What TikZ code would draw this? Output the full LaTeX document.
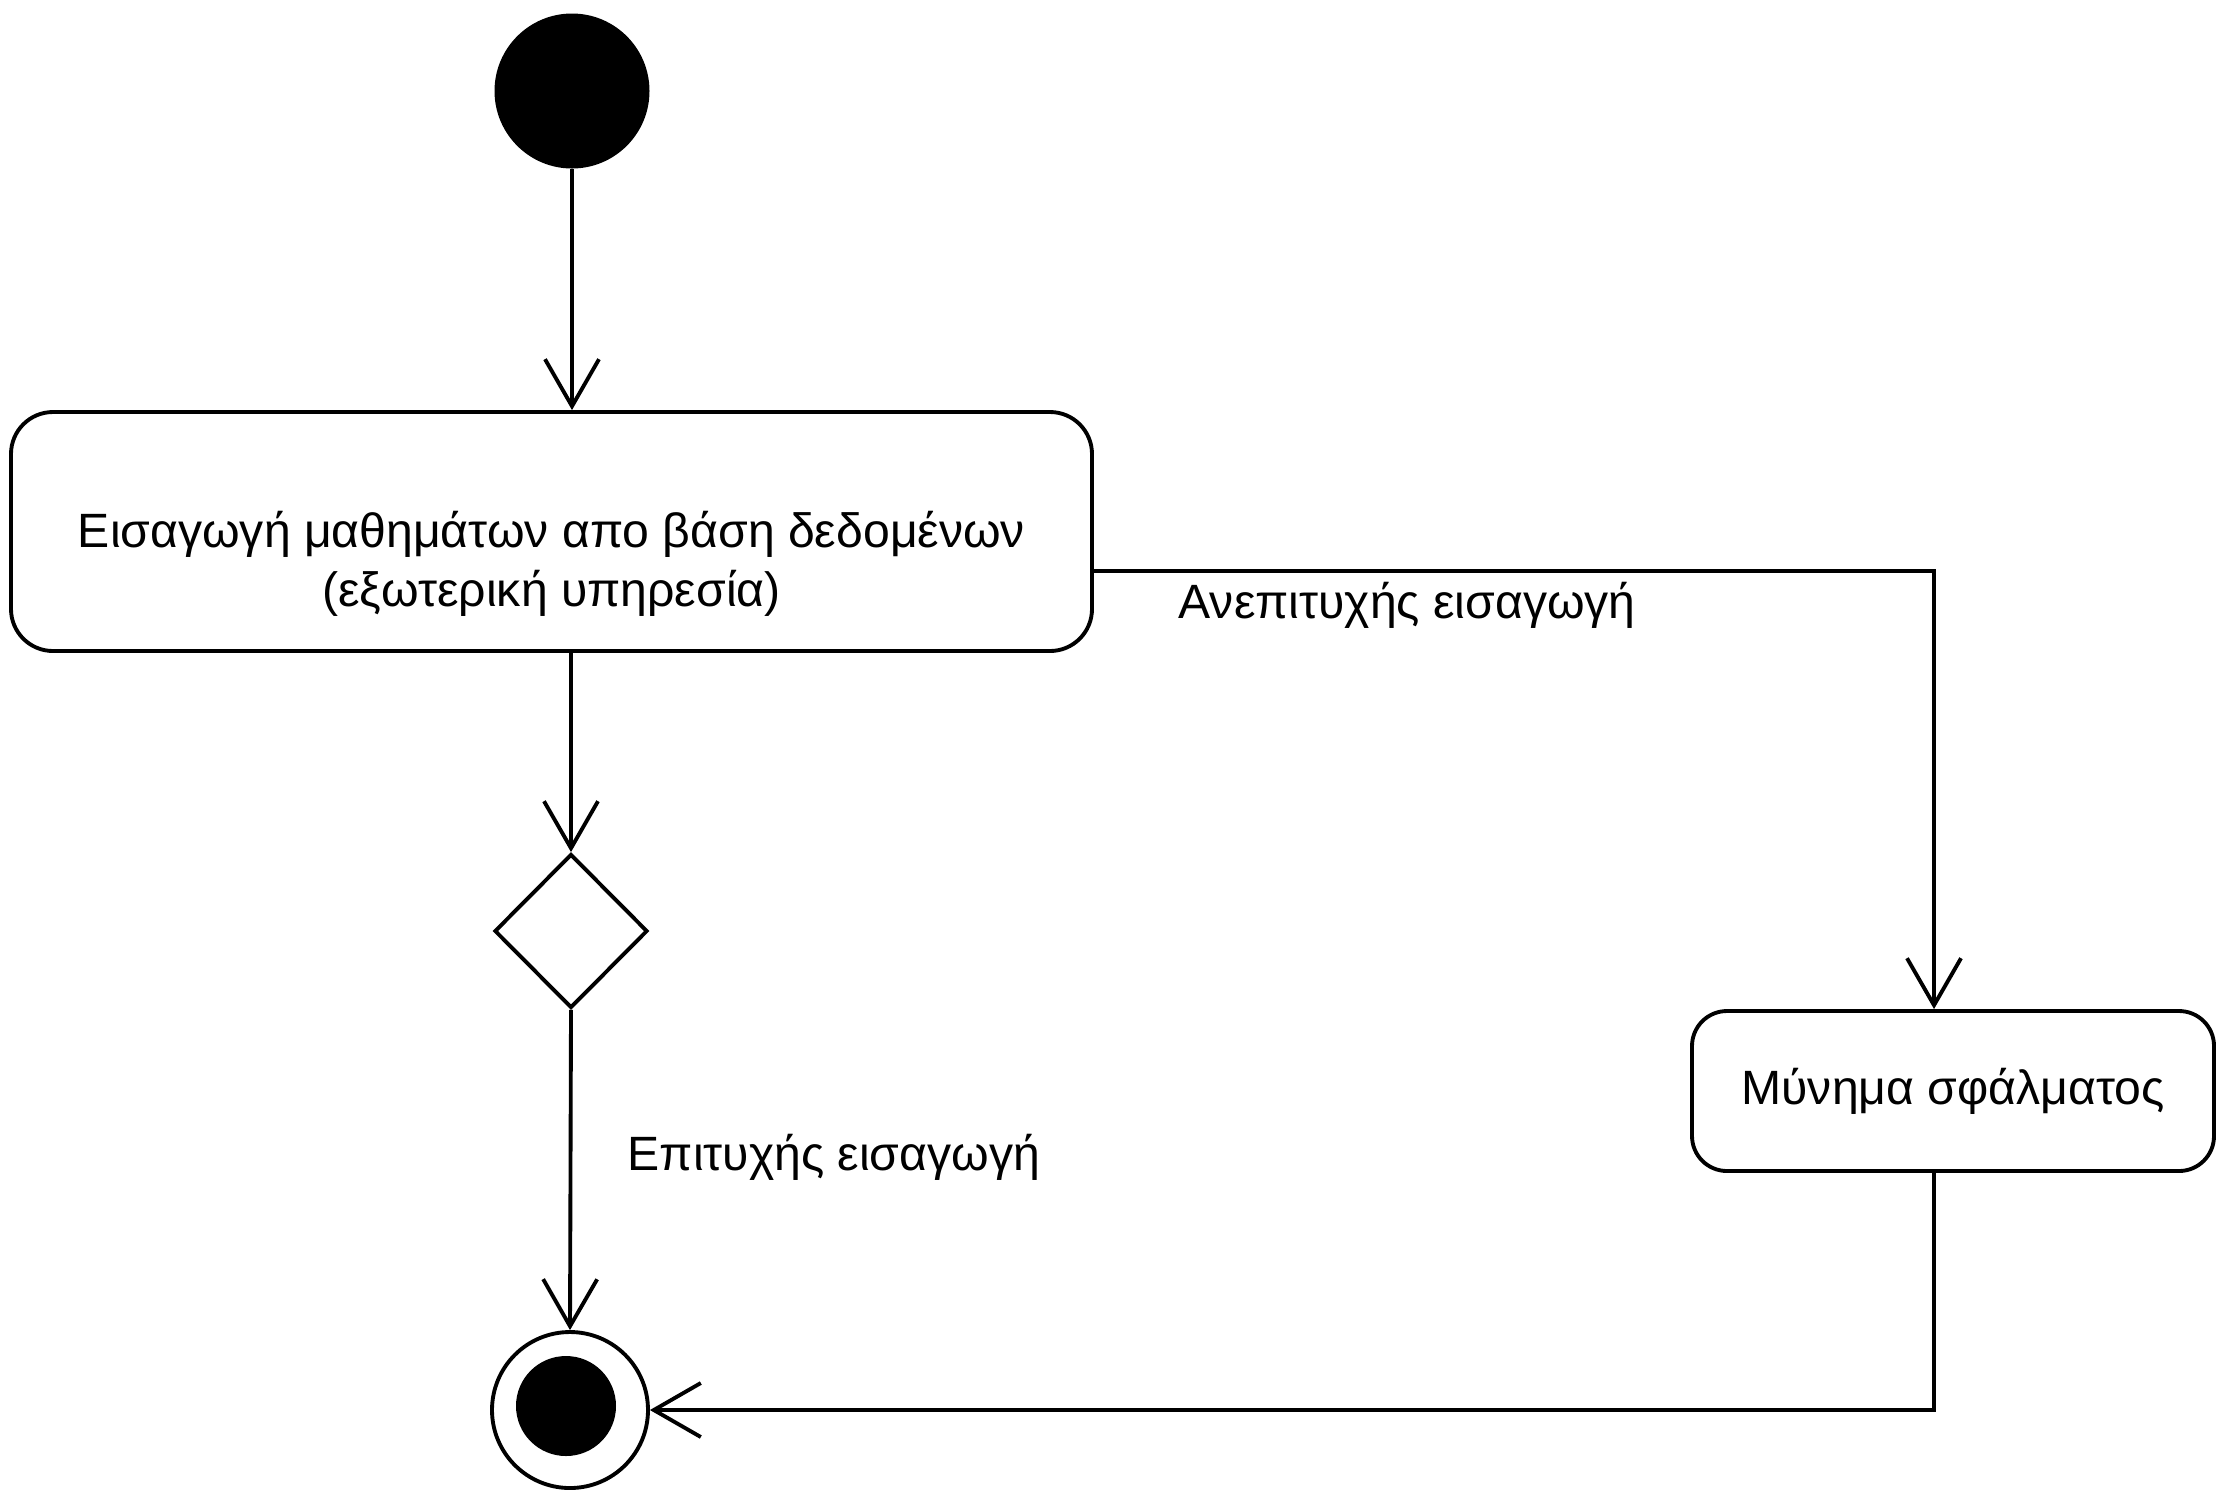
\documentclass[tikz,border=0pt]{standalone}
\usepackage{fontspec}
\setmainfont{Liberation Sans}
\usepackage{tikz}
\usetikzlibrary{shapes.geometric,arrows.meta,positioning}

\tikzset{
    line/.style={line width=1.1pt},
    arr/.style={line, -{Straight Barb[length=4.7mm,width=5.4mm,line width=1.1pt]}},
    actbox/.style={draw, line width=1.1pt, rectangle, rounded corners=0.42cm},
    lbl/.style={font=\fontsize{13.7}{16.8}\selectfont, inner sep=0pt}
}

\begin{document}
\begin{tikzpicture}
    \useasboundingbox (0,0) rectangle (22.2,-15);
    % states
    \node[circle, fill=black, minimum size=1.55cm, inner sep=0pt] (start) at (5.72,-0.91) {};
    \node[actbox, minimum width=10.81cm, minimum height=2.39cm] (load) at (5.515,-5.315) {};
    \node[lbl, align=center] (loadtxt) at ([yshift=-0.32cm]load.center) {Εισαγωγή μαθημάτων απο βάση δεδομένων\\(εξωτερική υπηρεσία)};
    \node[draw, line, diamond, inner sep=0pt, minimum width=1.53cm, minimum height=1.54cm] (decision) at (5.71,-9.31) {};
    \node[actbox, rounded corners=0.35cm, minimum width=5.22cm, minimum height=1.6cm, lbl, inner sep=0pt] (err) at (19.53,-10.91) {Μύνημα σφάλματος};
    \node[draw, line, circle, minimum size=1.56cm, inner sep=0pt,
          path picture={\fill ([shift={(-0.04,0.04)}]path picture bounding box.center) circle (0.5cm);}] (final) at (5.70,-14.10) {};
    % labels
    \node[lbl, anchor=base west] (failtxt) at (11.78,-6.18) {Ανεπιτυχής εισαγωγή};
    \node[lbl, anchor=base west] (oktxt) at (6.27,-11.70) {Επιτυχής εισαγωγή};
    % transitions
    \draw[arr] (start) -- (start |- load.north);
    \draw[arr] (decision |- load.south) -- (decision.north);
    \draw[arr] (decision.south) -- (final.north);
    \draw[arr] ([yshift=-0.395cm]load.east) -| ([xshift=-0.19cm]err.north);
    \draw[arr] ([xshift=-0.19cm]err.south) |- (final.east);
\end{tikzpicture}
\end{document}
